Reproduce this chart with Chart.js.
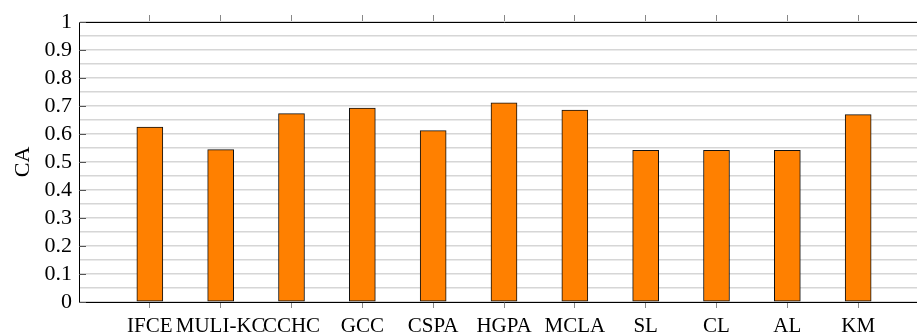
<!DOCTYPE html>
<html>
<head>
<meta charset="utf-8">
<script src="https://cdn.jsdelivr.net/npm/chart.js@4/dist/chart.umd.min.js"></script>
<style>
html,body{margin:0;padding:0;background:#fff;overflow:hidden;width:917px;height:335px;}
#wrap{width:935px;height:335px;}
</style>
</head>
<body>
<div id="wrap"><canvas id="c" width="935" height="335"></canvas></div>
<script>
const categories = ['IFCE','MULI-KC','CCHC','GCC','CSPA','HGPA','MCLA','SL','CL','AL','KM'];
const caValues = [0.625,0.544,0.673,0.693,0.612,0.711,0.685,0.542,0.542,0.542,0.669];
const yTickLabels = ['0','0.1','0.2','0.3','0.4','0.5','0.6','0.7','0.8','0.9','1'];
const yAxisTitle = 'CA';

const labels = [''].concat(categories, ['']);
const data = [null].concat(caValues, [null]);
const FONT = "Liberation Serif";

const tickMarksPlugin = {
  id: 'innerTicks',
  afterDatasetsDraw(chart) {
    const ctx = chart.ctx, ys = chart.scales.y, area = chart.chartArea;
    ctx.save();
    ctx.strokeStyle = '#555';
    ctx.lineWidth = 1;
    yTickLabels.forEach(t => {
      const y = Math.round(ys.getPixelForValue(parseFloat(t))) + 0.5;
      ctx.beginPath();
      ctx.moveTo(area.left, y);
      ctx.lineTo(area.left + 7, y);
      ctx.stroke();
    });
    ctx.restore();
  }
};

const hideEnds = (c) => (c.index === 0 || c.index === labels.length - 1) ? 'rgba(0,0,0,0)' : '#888';

new Chart(document.getElementById('c'), {
  type: 'bar',
  data: {
    labels: labels,
    datasets: [{
      data: data,
      backgroundColor: '#ff8000',
      borderColor: '#111',
      borderWidth: 1,
      borderSkipped: false,
      barThickness: 26,
      xAxisID: 'x',
      yAxisID: 'y'
    }]
  },
  options: {
    responsive: false,
    animation: false,
    layout: { padding: 0 },
    plugins: { legend: { display: false }, tooltip: { enabled: false } },
    scales: {
      x: {
        type: 'category',
        position: 'bottom',
        offset: false,
        grid: {
          offset: false,
          drawOnChartArea: false,
          drawTicks: true,
          tickLength: 6,
          color: hideEnds
        },
        border: { display: true, color: '#000', width: 1 },
        ticks: {
          color: '#000',
          font: { family: FONT, size: 21 },
          maxRotation: 0,
          autoSkip: false,
          padding: 6
        },
        afterFit: (s) => { s.height = 33; }
      },
      x2: {
        type: 'category',
        position: 'top',
        labels: labels,
        offset: false,
        grid: {
          offset: false,
          drawOnChartArea: false,
          tickLength: 7,
          color: hideEnds
        },
        border: { display: true, color: '#000', width: 1 },
        ticks: { display: false },
        afterFit: (s) => { s.height = 22; }
      },
      y: {
        type: 'linear',
        min: 0,
        max: 1,
        grid: {
          color: '#d6d6d6',
          lineWidth: 1.5,
          drawTicks: false
        },
        border: { display: true, color: '#000', width: 1 },
        ticks: {
          stepSize: 0.05,
          color: '#000',
          font: { family: FONT, size: 22 },
          padding: 7,
          autoSkip: false,
          callback: (v) => {
            const k = Math.round(v * 10);
            return Math.abs(v * 10 - k) < 1e-6 ? yTickLabels[k] : '';
          }
        },
        title: {
          display: true,
          text: yAxisTitle,
          color: '#000',
          font: { family: FONT, size: 22 },
          padding: { top: 10, bottom: 0 }
        },
        afterFit: (s) => { s.width = 79; }
      }
    }
  },
  plugins: [tickMarksPlugin]
});
</script>
</body>
</html>
